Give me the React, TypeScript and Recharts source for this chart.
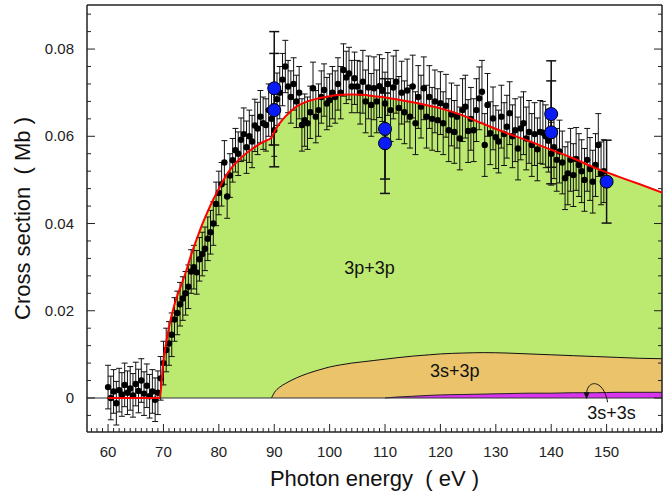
import React from "react";
import {
  Area,
  ComposedChart,
  ErrorBar,
  Line,
  ReferenceDot,
  ReferenceLine,
  Scatter,
  XAxis,
  YAxis,
} from "recharts";

// model curves (stacked tops)
const curveEnergy = [
  60, 69.3, 70, 71, 72, 73, 74, 75, 76, 77, 78, 79, 80, 82, 84, 86, 88, 89.5, 90, 91, 92, 94, 96, 98,
  100, 102, 104, 106, 108, 110, 112, 115, 118, 120, 124, 128, 132, 136, 140, 144, 148, 152, 156, 160,
];
const totalCurve = [
  0, 0, 0.0085, 0.0162, 0.0215, 0.0252, 0.0287, 0.0328, 0.0364, 0.0398, 0.0428, 0.0455, 0.048,
  0.0523, 0.0551, 0.0571, 0.0587, 0.0597, 0.061, 0.063, 0.0645, 0.0668, 0.068, 0.0687, 0.0692,
  0.0695, 0.0696, 0.0695, 0.0692, 0.0689, 0.0685, 0.0678, 0.067, 0.0664, 0.0648, 0.0627, 0.0607,
  0.0589, 0.0569, 0.0549, 0.0527, 0.0508, 0.049, 0.0471,
];
const spCurve = [
  null, null, null, null, null, null, null, null, null, null, null, null, null, null, null, null, null,
  0, 0.0012, 0.0025, 0.0033, 0.0046, 0.0056, 0.0064, 0.0071, 0.0076, 0.008, 0.0083, 0.0086, 0.0089,
  0.0092, 0.0096, 0.0099, 0.0101, 0.0103, 0.0104, 0.0103, 0.0101, 0.0099, 0.0097, 0.0095, 0.0093,
  0.0091, 0.009,
];
const ssCurve = [
  null, null, null, null, null, null, null, null, null, null, null, null, null, null, null, null, null,
  null, null, null, null, null, null, null, null, null, null, null, null, 0, 0.0002, 0.0004, 0.0006,
  0.0007, 0.0008, 0.0009, 0.001, 0.0011, 0.0011, 0.0012, 0.0012, 0.0013, 0.0013, 0.0013,
];

// measured points [energy, cross section]
const belowThreshold = [
  [60, 0.0025], [60.5, 0.0], [61, 0.0015], [61.5, -0.0012], [62, 0.0018], [62.5, 0.0008],
  [63, 0.003], [63.5, 0.0012], [64, 0.0022], [64.5, 0.0006], [65, 0.0032], [65.5, 0.0016],
  [66, 0.004], [66.5, 0.001], [67, 0.0028], [67.5, 0.0004], [68, 0.0015], [68.5, -0.0004],
  [69, 0.0012],
];
const risingEdge = [
  [69.5, 0.0045], [70, 0.008], [70.5, 0.011], [71, 0.0125], [71.5, 0.0145], [72, 0.018],
  [72.5, 0.0195], [73, 0.0215], [73.5, 0.0228], [74, 0.024], [74.5, 0.0255], [75, 0.029],
  [75.5, 0.03], [76, 0.0288], [76.5, 0.0318], [77, 0.033], [77.5, 0.0342], [78, 0.0365],
  [78.5, 0.038], [79, 0.04], [79.5, 0.0445], [80, 0.047], [80.5, 0.049], [81, 0.054],
  [81.5, 0.0462], [82, 0.051], [82.5, 0.0545], [83, 0.0568], [83.5, 0.056], [84, 0.0592],
];
const peakRegion = [
  [84.5, 0.0605], [85, 0.0575], [85.5, 0.06], [86, 0.0588], [86.5, 0.0625], [87, 0.0618],
  [87.5, 0.0645], [88, 0.063], [88.5, 0.0626], [89, 0.066], [89.5, 0.064], [90, 0.0614],
  [90.5, 0.0685], [91, 0.07], [91.5, 0.073], [92, 0.076], [92.5, 0.0714], [93, 0.069],
  [93.5, 0.072], [94, 0.068], [94.5, 0.07], [95, 0.0626], [95.5, 0.0637], [96, 0.063],
  [96.5, 0.0655], [97, 0.071], [97.5, 0.0645], [98, 0.066], [98.5, 0.069], [99, 0.0706],
  [99.5, 0.0675], [100, 0.0683], [100.5, 0.07], [101, 0.069], [101.5, 0.072], [102, 0.07],
  [102.5, 0.0752], [103, 0.0735], [103.5, 0.0744], [104, 0.0714], [104.5, 0.0733], [105, 0.0714],
];
const tailRegion = [
  [105.5, 0.07], [106, 0.0725], [106.5, 0.068], [107, 0.0712], [107.5, 0.0672], [108, 0.071],
  [108.5, 0.068], [109, 0.0715], [109.5, 0.0706], [110, 0.0675], [110.5, 0.072], [111, 0.066],
  [111.5, 0.0712], [112, 0.0725], [112.5, 0.0665], [113, 0.07], [113.5, 0.0655], [114, 0.0705],
  [114.5, 0.0645], [115, 0.0714], [115.5, 0.063], [116, 0.069], [116.5, 0.0668], [117, 0.071],
  [117.5, 0.0645], [118, 0.069], [118.5, 0.064], [119, 0.068], [119.5, 0.0637], [120, 0.0676],
  [120.5, 0.063], [121, 0.067], [121.5, 0.0614], [122, 0.065], [122.5, 0.061], [123, 0.0645],
  [123.5, 0.0595], [124, 0.066], [124.5, 0.0668], [125, 0.0612], [125.5, 0.064], [126, 0.0614],
  [126.5, 0.066], [127, 0.0687], [127.5, 0.0702], [128, 0.058], [128.5, 0.0672], [129, 0.0607],
  [129.5, 0.0641], [130, 0.0598], [130.5, 0.0588], [131, 0.0645], [131.5, 0.0605], [132, 0.0622],
  [132.5, 0.0653], [133, 0.06], [133.5, 0.0614], [134, 0.0572], [134.5, 0.0618], [135, 0.063],
  [135.5, 0.0595], [136, 0.061], [136.5, 0.058], [137, 0.0605], [137.5, 0.057], [138, 0.061],
  [138.5, 0.0608], [139, 0.06], [139.5, 0.059], [140, 0.056], [140.5, 0.0575], [141, 0.0546],
  [141.5, 0.0565], [142, 0.054], [142.5, 0.0504], [143, 0.0515], [143.5, 0.0546], [144, 0.0511],
  [144.5, 0.0548], [145, 0.0534], [145.5, 0.052], [146, 0.05], [146.5, 0.0546], [147, 0.0525],
  [147.5, 0.0496], [148, 0.0534], [148.5, 0.058], [149, 0.0515], [149.5, 0.052],
];
const segmentErr = [0.005, 0.005, 0.006, 0.0072];

// calculated points (blue)
const blueEnergy = [90, 90, 110, 110, 140, 140, 150];
const blueValue = [0.071, 0.066, 0.0617, 0.0584, 0.0651, 0.0609, 0.0496];
const blueErr = [0.013, 0.013, 0.0115, 0.0115, 0.0122, 0.0118, 0.0095];

const xMajor = [60, 70, 80, 90, 100, 110, 120, 130, 140, 150];
const yMajor = [0, 0.02, 0.04, 0.06, 0.08];
const yLabels = ["0", "0.02", "0.04", "0.06", "0.08"];

const xTicks: number[] = [];
for (let v = 57; v <= 160; v++) xTicks.push(v);
const yTicks: number[] = [];
for (let i = -1; i <= 22; i++) yTicks.push(Math.round(i * 4) / 1000);

const curveData = curveEnergy.map((x, i) => ({
  x,
  total: totalCurve[i],
  sp: spCurve[i],
  ss: ssCurve[i],
}));

const pointData = [belowThreshold, risingEdge, peakRegion, tailRegion].flatMap((seg, s) =>
  seg.map(([x, y]) => ({ x, y, err: segmentErr[s] }))
);
const blueData = blueEnergy.map((x, i) => ({ x, y: blueValue[i], err: blueErr[i] }));

const X_DOMAIN = [56.2, 160];
const Y_DOMAIN = [-0.0078, 0.0901];
const INK = "#222";
const FONT = "Arial, 'Liberation Sans', sans-serif";

const isXMajor = (v: number) => xMajor.includes(v) || v === 160;
const yMajorIndex = (v: number) => yMajor.findIndex((m) => Math.abs(m - v) < 1e-7);

const BottomTick = (p: any) => {
  const v = p.payload.value;
  const major = isXMajor(v);
  return (
    <g>
      <line x1={p.x} x2={p.x} y1={p.y} y2={p.y - (major ? 8 : 4)} stroke={INK} />
      {xMajor.includes(v) && (
        <text x={p.x} y={p.y + 25} textAnchor="middle" fontSize={15} fill={INK} fontFamily={FONT}>
          {v}
        </text>
      )}
    </g>
  );
};

const TopTick = (p: any) => {
  const major = isXMajor(p.payload.value);
  return <line x1={p.x} x2={p.x} y1={p.y} y2={p.y + (major ? 8 : 4)} stroke={INK} />;
};

const LeftTick = (p: any) => {
  const idx = yMajorIndex(p.payload.value);
  return (
    <g>
      <line x1={p.x} x2={p.x + (idx >= 0 ? 8 : 4)} y1={p.y} y2={p.y} stroke={INK} />
      {idx >= 0 && (
        <text x={p.x - 13} y={p.y + 5} textAnchor="end" fontSize={15} fill={INK} fontFamily={FONT}>
          {yLabels[idx]}
        </text>
      )}
    </g>
  );
};

const RightTick = (p: any) => {
  const idx = yMajorIndex(p.payload.value);
  return <line x1={p.x} x2={p.x - (idx >= 0 ? 8 : 4)} y1={p.y} y2={p.y} stroke={INK} />;
};

const textAt = (label: string, size: number) => (p: any) => (
  <text x={p.cx} y={p.cy + size * 0.35} textAnchor="middle" fontSize={size} fill="#111" fontFamily={FONT}>
    {label}
  </text>
);

const ssLabel = (p: any) => (
  <g>
    <text x={p.cx} y={p.cy + 6} textAnchor="middle" fontSize={18} fill="#111" fontFamily={FONT}>
      3s+3s
    </text>
    <path
      d={`M ${p.cx - 4} ${p.cy - 11} C ${p.cx - 8} ${p.cy - 34}, ${p.cx - 24} ${p.cy - 34}, ${p.cx - 25} ${p.cy - 20}`}
      fill="none"
      stroke="#111"
      strokeWidth={1}
    />
    <path
      d={`M ${p.cx - 28} ${p.cy - 21} L ${p.cx - 25} ${p.cy - 14} L ${p.cx - 22} ${p.cy - 21} Z`}
      fill="#111"
    />
  </g>
);

const yTitle = (p: any) => {
  const vb = p.viewBox;
  const cx = vb.x + 22;
  const cy = vb.y + vb.height / 2;
  return (
    <text
      x={cx}
      y={cy}
      transform={`rotate(-90 ${cx} ${cy})`}
      textAnchor="middle"
      dominantBaseline="central"
      fontSize={22}
      fill="#111"
      fontFamily={FONT}
    >
      {"Cross section\u00a0 ( Mb )"}
    </text>
  );
};

const xTitle = (p: any) => {
  const vb = p.viewBox;
  return (
    <text
      x={vb.x + vb.width / 2}
      y={vb.y + vb.height - 10}
      textAnchor="middle"
      fontSize={22}
      fill="#111"
      fontFamily={FONT}
    >
      {"Photon energy\u00a0 ( eV )"}
    </text>
  );
};

const dot = (p: any) => <circle cx={p.cx} cy={p.cy} r={3.2} fill="#000" />;
const blueDot = (p: any) => <circle cx={p.cx} cy={p.cy} r={6.5} fill="#0a1cf5" stroke="#000" strokeWidth={1} />;

export default function App() {
  return (
    <div style={{ position: "absolute", left: 0, top: 0, fontFamily: FONT }}>
      <ComposedChart width={671} height={496} data={curveData} margin={{ top: 0, right: 0, bottom: 0, left: 0 }}>
        <XAxis
          xAxisId="b"
          dataKey="x"
          type="number"
          domain={X_DOMAIN}
          allowDataOverflow
          ticks={xTicks}
          interval={0}
          tickSize={0}
          tickMargin={0}
          tickLine={false}
          tick={(p: any) => <BottomTick {...p} />}
          axisLine={{ stroke: INK, strokeWidth: 1.5 }}
          height={64}
          label={{ content: xTitle }}
        />
        <XAxis
          xAxisId="t"
          orientation="top"
          type="number"
          domain={X_DOMAIN}
          allowDataOverflow
          ticks={xTicks}
          interval={0}
          tickSize={0}
          tickMargin={0}
          tickLine={false}
          tick={(p: any) => <TopTick {...p} />}
          axisLine={{ stroke: INK, strokeWidth: 1.5 }}
          height={5}
        />
        <YAxis
          yAxisId="l"
          type="number"
          domain={Y_DOMAIN}
          allowDataOverflow
          ticks={yTicks}
          interval={0}
          tickSize={0}
          tickMargin={0}
          tickLine={false}
          tick={(p: any) => <LeftTick {...p} />}
          axisLine={{ stroke: INK, strokeWidth: 1.5 }}
          width={87}
          label={{ content: yTitle }}
        />
        <YAxis
          yAxisId="r"
          orientation="right"
          type="number"
          domain={Y_DOMAIN}
          allowDataOverflow
          ticks={yTicks}
          interval={0}
          tickSize={0}
          tickMargin={0}
          tickLine={false}
          tick={(p: any) => <RightTick {...p} />}
          axisLine={{ stroke: INK, strokeWidth: 1.5 }}
          width={9}
        />

        <ReferenceLine xAxisId="b" yAxisId="l" y={0} stroke="#333" strokeWidth={1.2} />

        <Area
          xAxisId="b"
          yAxisId="l"
          dataKey="total"
          type="monotone"
          baseValue={0}
          fill="#bce970"
          fillOpacity={1}
          stroke="none"
          isAnimationActive={false}
        />
        <Area
          xAxisId="b"
          yAxisId="l"
          dataKey="sp"
          type="monotone"
          baseValue={0}
          fill="#eac36b"
          fillOpacity={1}
          stroke="#111"
          strokeWidth={1}
          isAnimationActive={false}
        />
        <Area
          xAxisId="b"
          yAxisId="l"
          dataKey="ss"
          type="monotone"
          baseValue={0}
          fill="#d935ee"
          fillOpacity={1}
          stroke="#222"
          strokeWidth={1}
          isAnimationActive={false}
        />

        <Scatter
          xAxisId="b"
          yAxisId="l"
          data={pointData}
          dataKey="y"
          shape={dot}
          isAnimationActive={false}
        >
          <ErrorBar dataKey="err" direction="y" width={3} stroke="#111" strokeWidth={1} isAnimationActive={false} />
        </Scatter>

        <Line
          xAxisId="b"
          yAxisId="l"
          dataKey="total"
          type="monotone"
          stroke="#ff0000"
          strokeWidth={2}
          dot={false}
          activeDot={false}
          isAnimationActive={false}
          zIndex={700}
        />

        <Scatter
          xAxisId="b"
          yAxisId="l"
          data={blueData}
          dataKey="y"
          shape={blueDot}
          isAnimationActive={false}
          zIndex={800}
        >
          <ErrorBar dataKey="err" direction="y" width={5} stroke="#111" strokeWidth={1.5} isAnimationActive={false} />
        </Scatter>

        <ReferenceDot xAxisId="b" yAxisId="l" x={107.2} y={0.0298} r={0} shape={textAt("3p+3p", 18)} />
        <ReferenceDot xAxisId="b" yAxisId="l" x={122.6} y={0.0062} r={0} shape={textAt("3s+3p", 18)} />
        <ReferenceDot xAxisId="b" yAxisId="l" x={150.9} y={-0.0035} r={0} shape={ssLabel} />
      </ComposedChart>
    </div>
  );
}
